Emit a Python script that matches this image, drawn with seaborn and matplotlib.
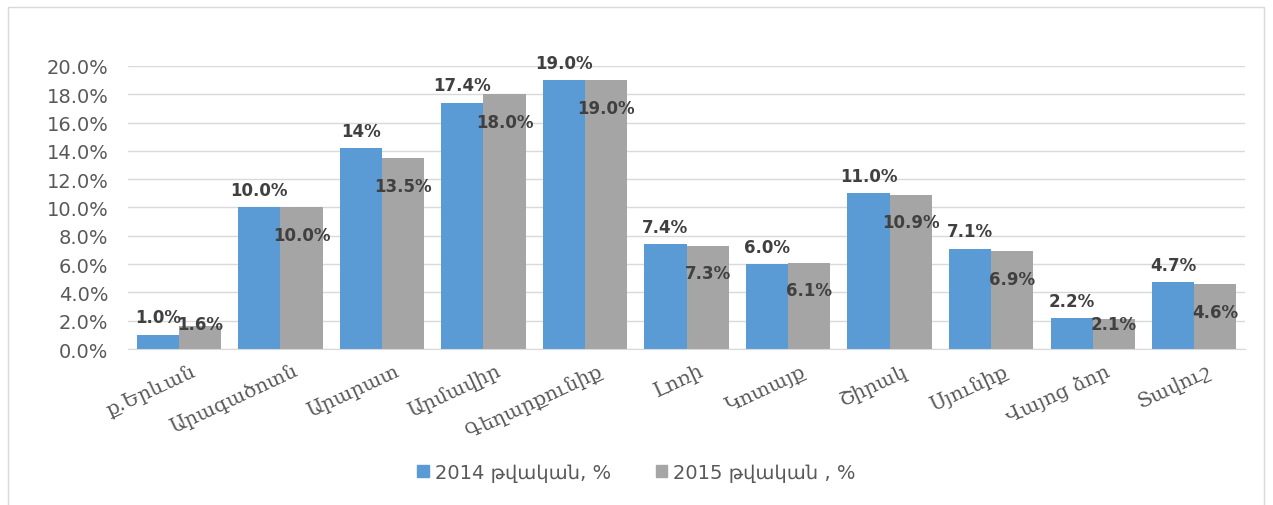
import pandas as pd
import matplotlib.pyplot as plt
import matplotlib.patches as mpatches
import matplotlib.transforms as mtransforms
import seaborn as sns

regions = ["ք.Երևան", "Արագածոտն", "Արարատ", "Արմավիր", "Գեղարքունիք", "Լոռի",
           "Կոտայք", "Շիրակ", "Սյունիք", "Վայոց ձոր", "Տավուշ"]
vals_2014 = [1.0, 10.0, 14.2, 17.4, 19.0, 7.4, 6.0, 11.0, 7.1, 2.2, 4.7]
vals_2015 = [1.6, 10.0, 13.5, 18.0, 19.0, 7.3, 6.1, 10.9, 6.9, 2.1, 4.6]
labels_2014 = ["1.0%", "10.0%", "14%", "17.4%", "19.0%", "7.4%", "6.0%", "11.0%", "7.1%", "2.2%", "4.7%"]
labels_2015 = ["1.6%", "10.0%", "13.5%", "18.0%", "19.0%", "7.3%", "6.1%", "10.9%", "6.9%", "2.1%", "4.6%"]
series = ["2014 թվական, %", "2015 թվական , %"]
colors = ["#5B9BD5", "#A5A5A5"]

df = pd.DataFrame({
    "region": regions * 2,
    "value": vals_2014 + vals_2015,
    "year": [series[0]] * len(regions) + [series[1]] * len(regions),
})

sns.set_style("white")
plt.rcParams['font.family'] = ['DejaVu Sans']

fig = plt.figure(figsize=(12.73, 5.06), dpi=100)
ax = fig.add_axes([0.1006, 0.3083, 0.8774, 0.5593])

sns.barplot(data=df, x="region", y="value", hue="year", palette=colors,
            width=0.83, saturation=1, linewidth=0, ax=ax, legend=False)

ax.set_ylim(0, 20)
ax.set_yticks(range(0, 21, 2))
ax.set_yticklabels([f"{v:.1f}%" for v in range(0, 21, 2)], fontsize=14, color="#595959")
ax.tick_params(axis="y", length=0, pad=14)
ax.tick_params(axis="x", length=0, pad=4)
ax.grid(axis="y", color="#D9D9D9", linewidth=1)
ax.set_axisbelow(True)
for s in ["top", "right", "left"]:
    ax.spines[s].set_visible(False)
ax.spines["bottom"].set_color("#D9D9D9")
ax.set_xlabel("")
ax.set_ylabel("")

ax.set_xticks(range(len(regions)))
ax.set_xticklabels(regions, rotation=25, ha="right", rotation_mode="anchor",
                   fontsize=14.5, color="#595959", family="DejaVu Serif")
shift = mtransforms.ScaledTranslation(12 / 100, -6 / 100, fig.dpi_scale_trans)
for t in ax.get_xticklabels():
    t.set_transform(t.get_transform() + shift)

# data labels
bars_2014 = ax.containers[0]
bars_2015 = ax.containers[1]
for bar, lab in zip(bars_2014, labels_2014):
    cx = bar.get_x() + bar.get_width() / 2
    ax.annotate(lab, (cx, bar.get_height()), xytext=(0, 12.5), textcoords="offset points",
                ha="center", va="center", fontsize=12, fontweight="bold", color="#404040")
for bar, lab in zip(bars_2015, labels_2015):
    cx = bar.get_x() + bar.get_width() / 2
    y = max(bar.get_height() - 1.95, 1.8)
    ax.text(cx, y, lab, ha="center", va="center", fontsize=12,
            fontweight="bold", color="#404040")

handles = [mpatches.Patch(color=c, label=s) for c, s in zip(colors, series)]
fig.legend(handles=handles, loc="center", bbox_to_anchor=(0.5, 0.065), ncol=2,
           frameon=False, fontsize=14, handlelength=0.6, handleheight=0.6,
           handletextpad=0.3, columnspacing=2.3, labelcolor="#595959")

fig.patches.append(mpatches.Rectangle((0.0063, -0.05), 0.987, 1.034, transform=fig.transFigure,
                                      fill=False, edgecolor="#D9D9D9", linewidth=1))

fig.savefig("out.png", dpi=100)
